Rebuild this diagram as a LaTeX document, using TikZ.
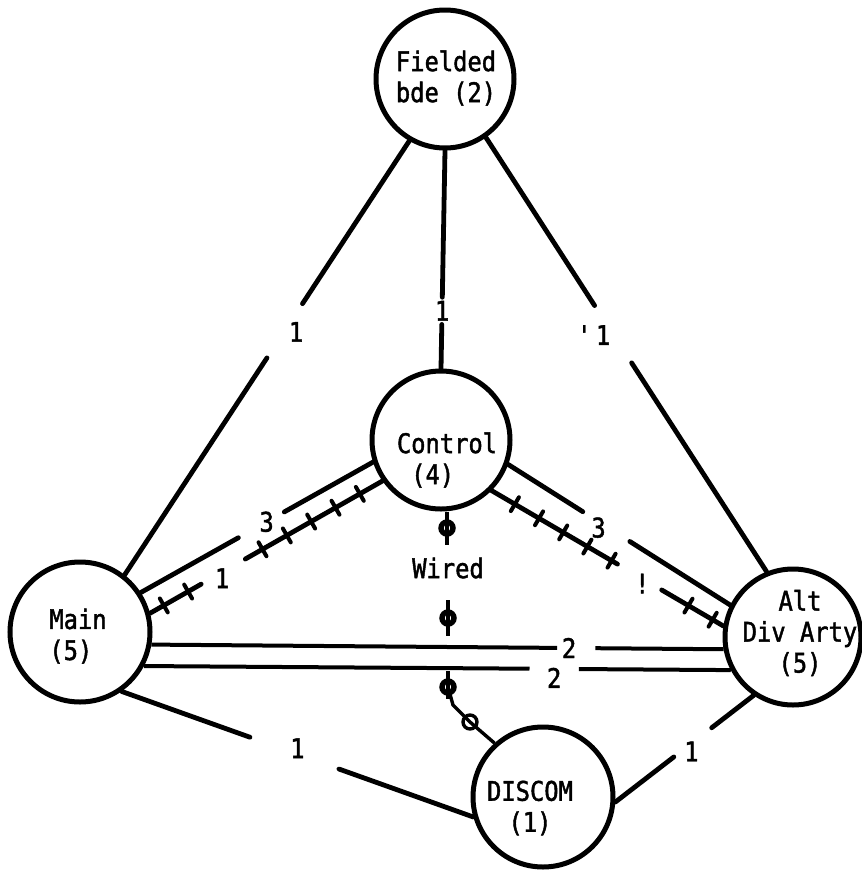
\documentclass[tikz,border=0pt]{standalone}
\usepackage{fontspec}
\newfontfamily\typewriter[FakeStretch=0.88,FakeBold=1.6]{DejaVu Sans Mono}
\usetikzlibrary{calc,decorations.markings}
\begin{document}
\begin{tikzpicture}[x=1pt,y=-1pt,
  stn/.style={circle,draw,line width=5pt,inner sep=0pt,minimum size=#1},
  lbl/.style={font=\typewriter\fontsize{27}{31}\selectfont,inner sep=0pt,align=center},
  wire/.style={line width=4.8pt,line cap=round},
  dbl/.style={line width=4pt},
  hatch/.style={wire,postaction={decorate},
    decoration={markings,mark=between positions #1 and -6pt step 28pt with {\draw[line width=4pt] (0,-8) -- (0,8);}}},
  phi/.style={circle,draw,line width=5.4pt,inner sep=0pt,minimum size=12pt},
  stem/.style={line width=3.8pt},
  link/.style={line width=3.4pt},
  ring/.style={circle,draw,line width=3.4pt,inner sep=0pt,minimum size=14pt}]
\path[use as bounding box,fill=white] (0,0) rectangle (862,871);

% stations
\node[stn=138] (fb)  at (445,79)  {};
\node[stn=138] (ctl) at (441,440) {};
\node[stn=140] (main) at (80,632) {};
\node[stn=136] (alt) at (793,637) {};
\node[stn=140] (dis) at (543,797) {};

\node[lbl,align=left] (fb-t)   at (446,78)  {Fielded\\bde (2)};
\node[lbl,align=left] (ctl-t)  at (447,460) {Control\\\hphantom{C}(4)};
\node[lbl,align=left] (main-t) at (78,636)  {Main\\(5)};
\node[lbl] (alt-t)  at (800,633) {Alt\\Div Arty\\(5)};
\node[lbl] (dis-t)  at (530,808) {DISCOM\\(1)};

% Fielded bde links
\draw[wire] (fb.240) -- ($(fb.240)!0.375!(main.52)$);
\draw[wire] ($(fb.240)!0.50!(main.52)$) -- (main.52);
\node[lbl] (n-fm) at ($($(fb.240)!0.44!(main.52)$)+(12,0)$) {1};

\draw[wire] (fb.south) -- ($(fb.south)!0.673!(ctl.north)$);
\draw[wire] ($(fb.south)!0.798!(ctl.north)$) -- (ctl.north);
\node[lbl] (n-fc) at ($(fb.south)!0.735!(ctl.north)$) {1};

\draw[wire] (fb.305) -- ($(fb.305)!0.387!(alt.112)$);
\draw[wire] ($(fb.305)!0.519!(alt.112)$) -- (alt.112);
\node[lbl] (n-fa) at ($($(fb.305)!0.455!(alt.112)$)+(-20,0)$) {'\,1};

% Control links
\draw[wire] (ctl.198) -- ($(ctl.198)!0.382!(main.33)$);
\draw[wire] ($(ctl.198)!0.58!(main.33)$) -- (main.33);
\node[lbl] (n-cm3) at ($(ctl.198)!0.458!(main.33)$) {3};

\draw[hatch=26pt] (ctl.215) -- ($(ctl.215)!0.59!(main.15)$);
\draw[hatch=15pt] ($(ctl.215)!0.78!(main.15)$) -- (main.15);
\node[lbl] (n-cm1) at ($($(ctl.215)!0.69!(main.15)$)+(0,6)$) {1};

\draw[wire] (ctl.340) -- ($(ctl.340)!0.336!(alt.153)$);
\draw[wire] ($(ctl.340)!0.548!(alt.153)$) -- (alt.153);
\node[lbl] (n-ca3) at ($($(ctl.340)!0.407!(alt.153)$)+(0,6)$) {3};

\draw[hatch=27pt] (ctl.315) -- ($(ctl.315)!0.543!(alt.171)$);
\draw[hatch=31pt] ($(ctl.315)!0.734!(alt.171)$) -- (alt.171);
\node[lbl] (n-ca1) at ($($(ctl.315)!0.65!(alt.171)$)+(0,5)$) {!};

% Main -- Alt Div Arty pair
\draw[dbl] (main.350) -- ($(main.350)!0.709!(alt.190)$);
\draw[dbl] ($(main.350)!0.776!(alt.190)$) -- (alt.190);
\node[lbl] (n-ma1) at ($(main.350)!0.73!(alt.190)$) {2};

\draw[dbl] (main.332) -- ($(main.332)!0.657!(alt.208)$);
\draw[dbl] ($(main.332)!0.741!(alt.208)$) -- (alt.208);
\node[lbl] (n-ma2) at ($($(main.332)!0.699!(alt.208)$)+(0,9)$) {2};

% DISCOM links
\draw[wire] (main.305) -- ($(main.305)!0.365!(dis.196)$);
\draw[wire] ($(main.305)!0.618!(dis.196)$) -- (dis.196);
\node[lbl] (n-md) at ($($(main.305)!0.5!(dis.196)$)+(0,-6)$) {1};

\draw[wire] (dis.356) -- ($(dis.356)!0.423!(alt.236)$);
\draw[wire] ($(dis.356)!0.697!(alt.236)$) -- (alt.236);
\node[lbl] (n-da) at ($($(dis.356)!0.55!(alt.236)$)+(0,8)$) {1};

% wired net
\node[lbl] (wired) at (448,568) {Wired};
\node[phi] (w1) at (447,528) {};
\node[phi] (w2) at (448,618) {};
\node[phi] (w3) at (448,687) {};
\draw[stem] ($(w1.center)+(0,-16)$) -- ($(w1.center)+(0,17)$);
\draw[stem] ($(w2.center)+(0,-18)$) -- ($(w2.center)+(0,18)$);
\draw[stem] ($(w3.center)+(0,-16)$) -- ($(w3.center)+(0,12)$);
\coordinate (w3b) at ($(w3.center)+(5,18)$);
\node[ring] (loop) at (470,722) {};
\draw[link] (w3.center) -- (w3b) -- (loop.center) -- (dis.132);
\end{tikzpicture}
\end{document}
